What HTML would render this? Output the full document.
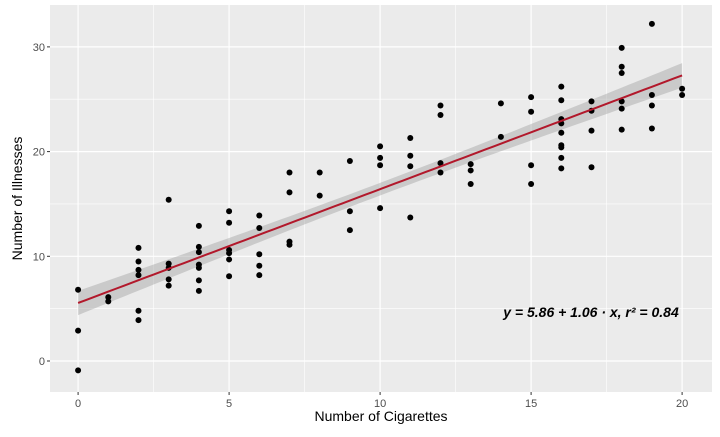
<!DOCTYPE html>
<html><head><meta charset="utf-8"><style>
body{margin:0;background:#fff;font-family:"Liberation Sans",sans-serif}
</style></head><body>
<svg id="c" width="720" height="432" xmlns="http://www.w3.org/2000/svg"></svg>
<script>
const cigarettes=[0,0,0,1,1,2,2,2,2,2,2,3,3,3,3,3,4,4,4,4,4,4,4,5,5,5,5,5,5,6,6,6,6,6,7,7,7,7,8,8,9,9,9,10,10,10,10,11,11,11,11,12,12,12,12,13,13,13,14,14,15,15,15,15,16,16,16,16,16,16,16,16,16,17,17,17,17,18,18,18,18,18,18,19,19,19,19,20,20];
const illnesses=[6.8,2.9,-0.9,6.1,5.7,10.8,9.5,8.7,8.2,4.8,3.9,15.4,9.3,8.9,7.8,7.2,12.9,10.9,10.4,9.2,8.9,7.7,6.7,14.3,13.2,10.6,10.3,9.7,8.1,13.9,12.7,10.2,9.1,8.2,18.0,16.1,11.4,11.1,18.0,15.8,19.1,14.3,12.5,20.5,19.4,18.7,14.6,21.3,19.6,18.6,13.7,24.4,23.5,18.9,18.0,18.8,18.2,16.9,24.6,21.4,25.2,23.8,18.7,16.9,26.2,24.9,23.1,22.7,21.8,20.6,20.4,19.4,18.4,24.8,23.9,22.0,18.5,29.9,28.1,27.5,24.8,24.1,22.1,32.2,25.4,24.4,22.2,26.0,25.4];
const xTicks=[0,5,10,15,20];
const yTicks=[0,10,20,30];
const annotation="y = 5.86 + 1.06 · x,  r² = 0.84";
const NS="http://www.w3.org/2000/svg";
const svg=document.getElementById('c');
const L=50,R=712,T=5,B=392;
const xmin=-0.93,xmax=20.99,ymin=-2.96,ymax=34.0;
const X=v=>L+(v-xmin)/(xmax-xmin)*(R-L);
const Y=v=>B-(v-ymin)/(ymax-ymin)*(B-T);
function mk(t,a){const e=document.createElementNS(NS,t);for(const k in a)e.setAttribute(k,a[k]);svg.appendChild(e);return e;}
let e=mk('rect',{x:L,y:T,width:R-L,height:B-T,fill:'#ebebeb'});


for(let v=-2.5;v<=22.5;v+=5){if(X(v)>L&&X(v)<R)mk('line',{x1:X(v),x2:X(v),y1:T,y2:B,stroke:'#fff','stroke-width':0.6});}
for(let v=-5;v<=35;v+=10){if(Y(v)>T&&Y(v)<B)mk('line',{x1:L,x2:R,y1:Y(v),y2:Y(v),stroke:'#fff','stroke-width':0.6});}
xTicks.forEach(v=>{mk('line',{x1:X(v),x2:X(v),y1:T,y2:B,stroke:'#fff','stroke-width':1.2});
mk('line',{x1:X(v),x2:X(v),y1:B,y2:B+3,stroke:'#333','stroke-width':1});
const t=mk('text',{x:X(v),y:B+15,'text-anchor':'middle','font-size':11,fill:'#4d4d4d'});t.textContent=v;

});
yTicks.forEach(v=>{mk('line',{x1:L,x2:R,y1:Y(v),y2:Y(v),stroke:'#fff','stroke-width':1.2});
mk('line',{x1:L-3,x2:L,y1:Y(v),y2:Y(v),stroke:'#333','stroke-width':1});
const t=mk('text',{x:L-5,y:Y(v)+4,'text-anchor':'end','font-size':11,fill:'#4d4d4d'});t.textContent=v;

});
// regression
const n=cigarettes.length;
const mx=cigarettes.reduce((a,b)=>a+b)/n,my=illnesses.reduce((a,b)=>a+b)/n;
let sxx=0,sxy=0;for(let i=0;i<n;i++){sxx+=(cigarettes[i]-mx)**2;sxy+=(cigarettes[i]-mx)*(illnesses[i]-my);}
const b1=sxy/sxx,b0=my-b1*mx;
let sse=0;for(let i=0;i<n;i++)sse+=(illnesses[i]-b0-b1*cigarettes[i])**2;
const s=Math.sqrt(sse/(n-2));
const x0=Math.min(...cigarettes),x1=Math.max(...cigarettes);
let up=[],lo=[],ln=[];
for(let k=0;k<=80;k++){const xv=x0+(x1-x0)*k/80;const yh=b0+b1*xv;const se=1.99*s*Math.sqrt(1/n+(xv-mx)**2/sxx);
up.push(X(xv)+','+Y(yh+se));lo.unshift(X(xv)+','+Y(yh-se));ln.push(X(xv)+','+Y(yh));}
e=mk('polygon',{points:up.concat(lo).join(' '),fill:'#999','fill-opacity':0.4});


for(let i=0;i<n;i++){const c=mk('circle',{cx:X(cigarettes[i]),cy:Y(illnesses[i]),r:3,fill:'#000'});

}
e=mk('polyline',{points:ln.join(' '),fill:'none',stroke:'#b2182b','stroke-width':2});


e=mk('text',{x:591,y:317,'text-anchor':'middle','font-size':14,'font-weight':'bold','font-style':'italic',fill:'#000'});
e.textContent=annotation;


e=mk('text',{x:(L+R)/2,y:421,'text-anchor':'middle','font-size':14,fill:'#000'});e.textContent='Number of Cigarettes';


e=mk('text',{x:0,y:0,'text-anchor':'middle','font-size':14,fill:'#000',transform:`translate(22,${(T+B)/2}) rotate(-90)`});e.textContent='Number of Illnesses';


</script>
</body></html>
